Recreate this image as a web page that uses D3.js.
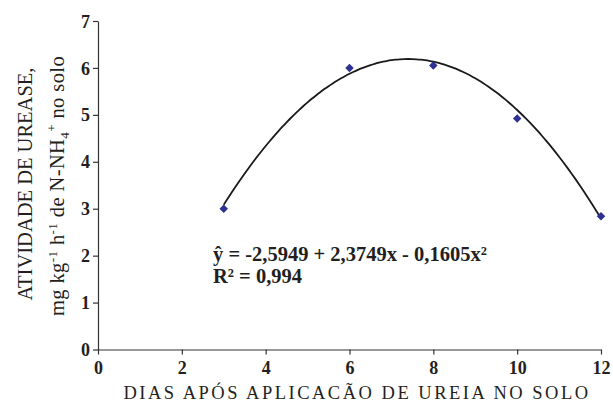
<!DOCTYPE html>
<html>
<head>
<meta charset="utf-8">
<script src="https://cdn.jsdelivr.net/npm/d3@7"></script>
<style>
  body { margin: 0; background: #fff; }
  text { font-family: "Liberation Serif", "Times New Roman", serif; fill: #231f20; }
  .tick-label { font-weight: bold; font-size: 18px; }
</style>
</head>
<body>
<svg id="chart" width="613" height="405"></svg>
<script>
const days = [3, 6, 8, 10, 12];
const urease = [3.0, 6.0, 6.05, 4.92, 2.84];
const xTicks = [0, 2, 4, 6, 8, 10, 12];
const yTicks = [0, 1, 2, 3, 4, 5, 6, 7];
// coefficients of the fitted curve shown on the chart
const coef = [-2.5949, 2.3749, -0.1605];

const svg = d3.select("#chart");

const x = d3.scaleLinear().domain([0, 12]).range([98, 601]);
const y = d3.scaleLinear().domain([0, 7]).range([349.5, 21]);

// axes
const xAxis = svg.append("g")
	.attr("transform", `translate(0, ${y(0)})`)
	.call(d3.axisBottom(x).tickValues(xTicks).tickSize(5).tickSizeOuter(0).tickFormat(d3.format("d")));

const yAxis = svg.append("g")
	.attr("transform", `translate(${x(0)}, 0)`)
	.call(d3.axisLeft(y).tickValues(yTicks).tickSize(5).tickSizeOuter(0).tickFormat(d3.format("d")));

[xAxis, yAxis].forEach(a => {
	a.attr("font-family", "Liberation Serif");
	a.select(".domain").attr("stroke", "#333").attr("stroke-width", 1.2);
	a.selectAll(".tick line").attr("stroke", "#333").attr("stroke-width", 1.2);
	a.selectAll(".tick text")
		.attr("class", "tick-label")
		.attr("fill", "#231f20")
		.style("font-family", "'Liberation Serif', serif");
});
xAxis.selectAll(".tick text").attr("dy", "0.9em");
yAxis.selectAll(".tick text").attr("x", -8).attr("dy", "0.34em");

// fitted curve
const curvePts = d3.range(days[0], days[days.length - 1] + 0.001, 0.1)
	.map(d => [d, coef[0] + coef[1] * d + coef[2] * d * d]);

svg.append("path")
	.datum(curvePts)
	.attr("fill", "none")
	.attr("stroke", "#1a1a1a")
	.attr("stroke-width", 1.8)
	.attr("d", d3.line().x(d => x(d[0])).y(d => y(d[1])).curve(d3.curveBasis));

// points
svg.selectAll(".pt")
	.data(days)
	.enter()
	.append("path")
	.attr("class", "pt")
	.attr("transform", (d, i) => `translate(${x(d)}, ${y(urease[i])})`)
	.attr("d", d3.symbol().type(d3.symbolDiamond2).size(46))
	.attr("fill", "#2e3192");

// equation
svg.append("text")
	.attr("x", 213)
	.attr("y", 261)
	.style("font-weight", "bold")
	.style("font-size", "20.5px")
	.text("ŷ = -2,5949 + 2,3749x - 0,1605x²");

svg.append("text")
	.attr("x", 213)
	.attr("y", 283)
	.style("font-weight", "bold")
	.style("font-size", "20.5px")
	.text("R² = 0,994");

// x title
svg.append("text")
	.attr("x", 357)
	.attr("y", 399)
	.attr("text-anchor", "middle")
	.style("font-size", "18.5px")
	.style("letter-spacing", "2.5px")
	.text("DIAS APÓS APLICACÃO DE UREIA NO SOLO");

// y title
const yt = svg.append("g").attr("transform", "translate(0, 184) rotate(-90)");
yt.append("text")
	.attr("x", 0)
	.attr("y", 32)
	.attr("text-anchor", "middle")
	.style("font-size", "20.5px")
	.text("ATIVIDADE DE UREASE,");

const l2 = yt.append("text")
	.attr("x", -2)
	.attr("y", 64)
	.attr("text-anchor", "middle")
	.style("font-size", "20.5px")
	.style("letter-spacing", "0.4px");
l2.append("tspan").text("mg kg");
l2.append("tspan").attr("dy", -7).style("font-size", "13px").text("-1");
l2.append("tspan").attr("dy", 7).text(" h");
l2.append("tspan").attr("dy", -7).style("font-size", "13px").text("-1");
l2.append("tspan").attr("dy", 7).text("  de N-NH");
l2.append("tspan").attr("dy", 5).style("font-size", "13px").text("4");
l2.append("tspan").attr("dy", -13).style("font-size", "13px").text("+");
l2.append("tspan").attr("dy", 8).text(" no solo");
</script>
</body>
</html>
